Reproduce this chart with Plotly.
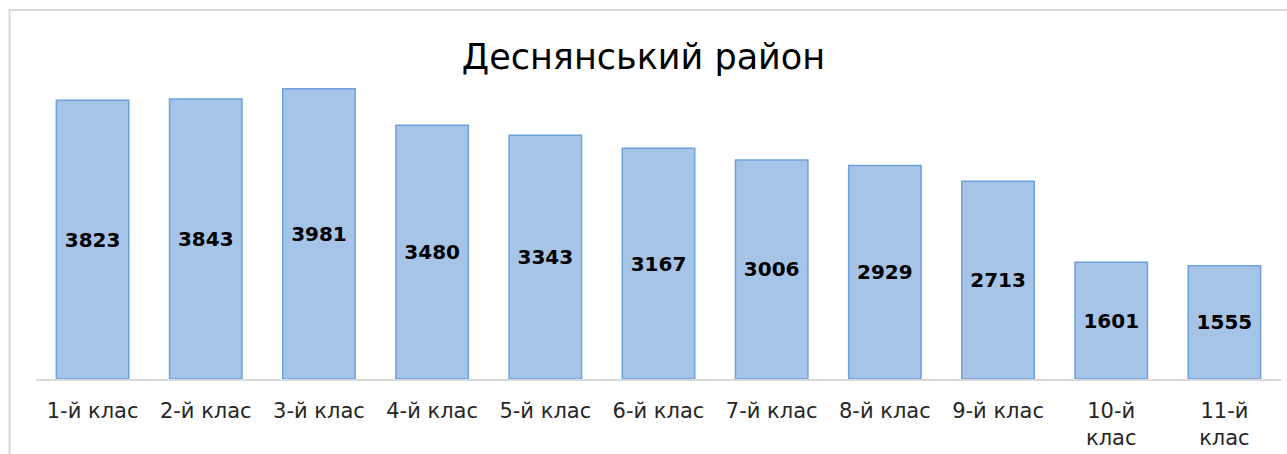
import plotly.graph_objects as go

# Кількість учнів за класами
classes = ['1-й клас', '2-й клас', '3-й клас', '4-й клас', '5-й клас', '6-й клас',
           '7-й клас', '8-й клас', '9-й клас', '10-й<br>клас', '11-й<br>клас']
pupils = [3823, 3843, 3981, 3480, 3343, 3167, 3006, 2929, 2713, 1601, 1555]

fig = go.Figure()

fig.add_trace(
    go.Bar(
        x=classes,
        y=pupils,
        text=[str(v) for v in pupils],
        textposition='inside',
        insidetextanchor='middle',
        textangle=0,
        textfont=dict(family='DejaVu Sans', size=20, color='#000000', weight='bold'),
        marker=dict(color='#a6c3e8', line=dict(color='#6fa1dc', width=1.5)),
        cliponaxis=False,
    )
)

# outer chart frame (grey)
fig.add_shape(
    type='rect', xref='paper', yref='paper',
    x0=-0.0212, x1=1.2, y0=-1, y1=1.125,
    line=dict(color='#d9d9d9', width=2), fillcolor='rgba(0,0,0,0)', layer='below'
)

fig.update_xaxes(
    showline=True, linecolor='#d9d9d9', linewidth=1.5,
    ticks='', tickfont=dict(family='DejaVu Sans', size=21, color='#262626'),
    ticklabelstandoff=12, automargin=False,
    showgrid=False,
)
fig.update_yaxes(range=[0, 4500], visible=False, showgrid=False, automargin=False)

fig.update_layout(
    title=dict(
        text='Деснянський район',
        x=0.5, xanchor='center', y=0.875, yanchor='middle',
        font=dict(family='DejaVu Sans', size=35, color='#000000'),
    ),
    width=1287, height=454,
    margin=dict(l=36, r=6, t=51, b=75, autoexpand=False),
    bargap=0.36,
    showlegend=False,
    plot_bgcolor='#ffffff',
    paper_bgcolor='#ffffff',
)

fig.write_html('out.html', config={'displayModeBar': False},
               post_script="document.body.style.margin='0';")
